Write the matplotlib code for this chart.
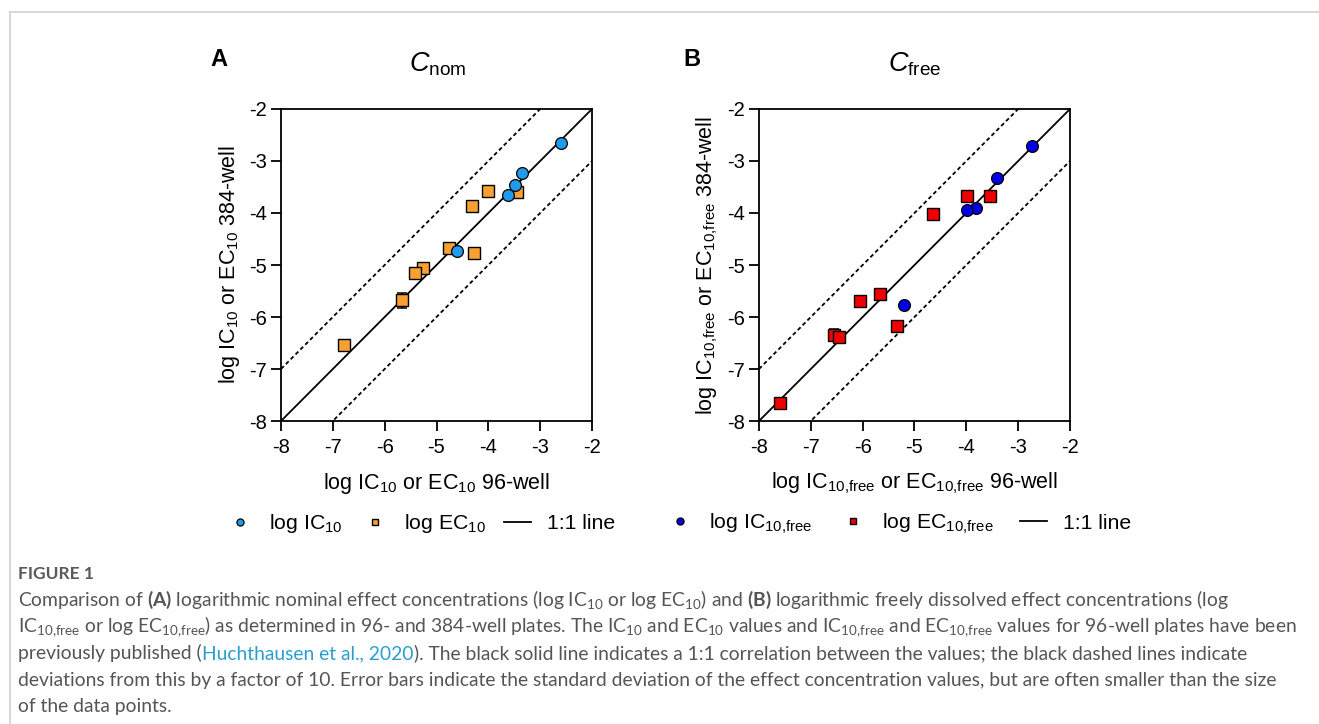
import matplotlib
matplotlib.use('Agg')
import matplotlib.pyplot as plt
from matplotlib.lines import Line2D

plt.rcParams['font.family'] = ['Liberation Sans', 'DejaVu Sans']
plt.rcParams['axes.unicode_minus'] = False
plt.rcParams['mathtext.fontset'] = 'custom'
plt.rcParams['mathtext.default'] = 'regular'
plt.rcParams['mathtext.it'] = 'Liberation Sans:italic'
plt.rcParams['mathtext.bf'] = 'Lato:bold'

# axis range and ticks shared by both panels
lims = [-8, -2]
ticks = [-8, -7, -6, -5, -4, -3, -2]

# panel A: nominal concentrations (96-well on x, 384-well on y)
a_ic_x = [-2.60, -3.35, -3.49, -3.62, -4.61]
a_ic_y = [-2.66, -3.24, -3.47, -3.66, -4.74]
a_ec_x = [-4.00, -3.45, -4.31, -4.75, -4.28, -5.26, -5.41, -5.66, -6.79]
a_ec_y = [-3.57, -3.60, -3.87, -4.67, -4.77, -5.05, -5.16, -5.68, -6.54]
a_ec_xerr = [0, 0, 0, 0, 0, 0, 0, 0, 0]
a_ec_yerr = [0, 0, 0, 0, 0, 0, 0, 0.15, 0]

# panel B: freely dissolved concentrations
b_ic_x = [-2.73, -3.41, -3.82, -3.98, -5.21]
b_ic_y = [-2.72, -3.33, -3.91, -3.95, -5.77]
b_ec_x = [-3.99, -3.54, -4.65, -5.67, -6.06, -5.34, -6.56, -6.45, -7.60]
b_ec_y = [-3.67, -3.68, -4.01, -5.56, -5.69, -6.17, -6.34, -6.39, -7.65]
b_ec_xerr = [0, 0, 0, 0, 0, 0, 0, 0, 0.08]
b_ec_yerr = [0, 0, 0, 0, 0, 0, 0.10, 0, 0]

W, H = 1319, 724
fig = plt.figure(figsize=(W / 100, H / 100), dpi=100)


def fx(x):
    return x / W


def fy(y):
    return 1 - y / H


def panel(left, ic_x, ic_y, ec_x, ec_y, ec_xerr, ec_yerr, ic_col, ec_col,
          xlabel, ylabel, labels, leg_x, colspace):
    ax = fig.add_axes([fx(left), fy(421), 311 / W, 312 / H])
    ax.plot(lims, lims, color='black', lw=1.3, zorder=1, label=labels[2])
    dash = (0, (2.2, 1.6))
    ax.plot(lims, [v + 1 for v in lims], color='black', lw=1.3, ls=dash, zorder=1)
    ax.plot(lims, [v - 1 for v in lims], color='black', lw=1.3, ls=dash, zorder=1)

    # error bars only where a deviation was visible
    ex = [x for x, a, b in zip(ec_x, ec_xerr, ec_yerr) if a or b]
    ey = [y for y, a, b in zip(ec_y, ec_xerr, ec_yerr) if a or b]
    exe = [a for a, b in zip(ec_xerr, ec_yerr) if a or b]
    eye = [b for a, b in zip(ec_xerr, ec_yerr) if a or b]
    ax.errorbar(ex, ey, xerr=exe, yerr=eye, fmt='none', ecolor='black',
                elinewidth=1.1, capsize=3.5, capthick=1.1, zorder=2)

    ec_line, = ax.plot(ec_x, ec_y, ls='none', marker='s', ms=8, mfc=ec_col,
                       mec='black', mew=1.0, zorder=3, label=labels[1])
    ic_line, = ax.plot(ic_x, ic_y, ls='none', marker='o', ms=8.5, mfc=ic_col,
                       mec='black', mew=0.9, zorder=4, label=labels[0])

    ax.set_xlim(lims)
    ax.set_ylim(lims)
    ax.set_xticks(ticks)
    ax.set_yticks(ticks)
    ax.set_xticklabels([str(t) for t in ticks])
    ax.set_yticklabels([str(t) for t in ticks])
    ax.tick_params(direction='out', length=7, width=1.3, labelsize=14.5, pad=3)
    ax.tick_params(axis='x', pad=5)
    for s in ax.spines.values():
        s.set_linewidth(1.3)
    ax.set_xlabel(xlabel, fontsize=15.5, labelpad=10)
    ax.set_ylabel(ylabel, fontsize=15.5, labelpad=5)

    ax.legend(handles=[ic_line, ec_line, ax.lines[0]], ncol=3,
              loc='center', bbox_to_anchor=(leg_x, -0.33),
              frameon=False, fontsize=15.3, markerscale=0.6,
              handlelength=1.27, handletextpad=0.75, columnspacing=colspace)
    return ax


panel(281, a_ic_x, a_ic_y, a_ec_x, a_ec_y, a_ec_xerr, a_ec_yerr,
      '#1f9bec', '#f9a032',
      'log IC$_{10}$ or EC$_{10}$ 96-well',
      'log IC$_{10}$ or EC$_{10}$ 384-well',
      ['log IC$_{10}$', 'log EC$_{10}$', '1:1 line'], 0.45, 0.85)
panel(759, b_ic_x, b_ic_y, b_ec_x, b_ec_y, b_ec_xerr, b_ec_yerr,
      '#0000e6', '#f00000',
      'log IC$_{10{,}free}$ or EC$_{10{,}free}$ 96-well',
      'log IC$_{10{,}free}$ or EC$_{10{,}free}$ 384-well',
      ['log IC$_{10{,}free}$', 'log EC$_{10{,}free}$', '1:1 line'], 0.45, 1.25)

# panel letters and titles
fig.text(fx(219), fy(59), 'A', fontsize=17, fontweight='bold', ha='center', va='center')
fig.text(fx(692), fy(59), 'B', fontsize=17, fontweight='bold', ha='center', va='center')
fig.text(fx(438), fy(64), r'$\mathit{C}_{nom}$', fontsize=19.5, ha='center', va='center')
fig.text(fx(915), fy(64), r'$\mathit{C}_{free}$', fontsize=19.5, ha='center', va='center')

# thin frame of the figure box
fig.add_artist(Line2D([fx(9.5), 1], [fy(11.5), fy(11.5)], color='#cfcfcf', lw=1.2))
fig.add_artist(Line2D([fx(9.5), fx(9.5)], [fy(11.5), 0], color='#cfcfcf', lw=1.2))

# caption
cap = dict(family=['Lato', 'DejaVu Sans'], fontsize=13.9, color='#555555',
           ha='left', va='baseline')
fig.text(fx(18), fy(579), 'FIGURE 1', **{**cap, 'color': '#5a5a5a',
                                         'fontweight': 'bold', 'fontsize': 12.5})
fig.text(fx(18), fy(606),
         r'Comparison of $\mathbf{(A)}$ logarithmic nominal effect concentrations '
         r'(log IC$_{10}$ or log EC$_{10}$) and $\mathbf{(B)}$ logarithmic freely '
         r'dissolved effect concentrations (log', **cap)
fig.text(fx(18), fy(632),
         r'IC$_{10{,}free}$ or log EC$_{10{,}free}$) as determined in 96- and '
         r'384-well plates. The IC$_{10}$ and EC$_{10}$ values and IC$_{10{,}free}$ '
         r'and EC$_{10{,}free}$ values for 96-well plates have been', **cap)
t1 = fig.text(fx(18), fy(659), 'previously published (', **cap)
t2 = fig.text(0, 0, 'Huchthausen et al., 2020', **{**cap, 'color': '#2a9fcf'})
t3 = fig.text(0, 0, '). The black solid line indicates a 1:1 correlation between '
                    'the values; the black dashed lines indicate', **cap)
fig.canvas.draw()
r = fig.canvas.get_renderer()
x = t1.get_window_extent(r).x1
t2.set_position((x / W + 0.5 / W, fy(659)))
x = t2.get_window_extent(r).x1
t3.set_position((x / W + 0.5 / W, fy(659)))
fig.text(fx(18), fy(686),
         'deviations from this by a factor of 10. Error bars indicate the standard '
         'deviation of the effect concentration values, but are often smaller than the size',
         **cap)
fig.text(fx(18), fy(712), 'of the data points.', **cap)

fig.savefig('out.png', dpi=100)
